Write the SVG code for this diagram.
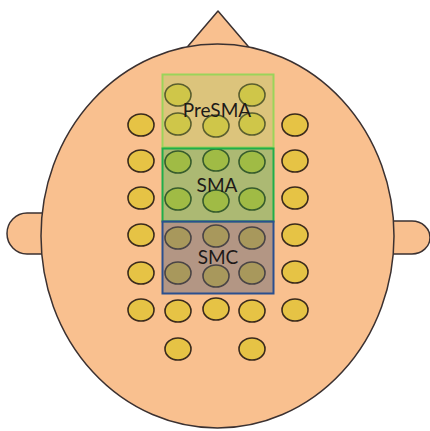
<svg xmlns="http://www.w3.org/2000/svg" width="430" height="431" viewBox="0 0 430 431">
  <style>
    .skin { fill: #f9c08f; stroke: #3b3131; stroke-width: 1.5; }
    .el { fill: #e6c345; stroke: #3a2a1c; stroke-width: 1.6; }
    .lbl { font-family: Lato, "Open Sans", sans-serif; font-size: 19px; fill: #1e1a18; text-anchor: middle; }
  </style>
  <rect width="430" height="431" fill="#ffffff"/>

  <!-- head: nose, ears, scalp -->
  <g id="head">
    <polygon class="skin" points="218,11 183,52 253,52" stroke-linejoin="round"/>
    <path id="ear-left" class="skin" d="M48,213 L27,213 A20,20.5 0 0 0 27,254 L48,254 Z"/>
    <path id="ear-right" class="skin" d="M388,221 L412,221 A18,16.5 0 0 1 412,254 L388,254 Z"/>
    <ellipse id="scalp" class="skin" cx="217.5" cy="236" rx="176.5" ry="192"/>
  </g>

  <!-- electrode sites -->
  <g id="electrodes">
    <ellipse class="el" cx="141" cy="125" rx="13" ry="11"/>
    <ellipse class="el" cx="141" cy="161" rx="13" ry="11"/>
    <ellipse class="el" cx="141" cy="198" rx="13" ry="11"/>
    <ellipse class="el" cx="141" cy="235" rx="13" ry="11"/>
    <ellipse class="el" cx="141" cy="273" rx="13" ry="11"/>
    <ellipse class="el" cx="141" cy="310" rx="13" ry="11"/>

    <ellipse class="el" cx="295" cy="125" rx="13" ry="11"/>
    <ellipse class="el" cx="295" cy="161" rx="13" ry="11"/>
    <ellipse class="el" cx="295" cy="198" rx="13" ry="11"/>
    <ellipse class="el" cx="295" cy="235" rx="13" ry="11"/>
    <ellipse class="el" cx="295" cy="272" rx="13" ry="11"/>
    <ellipse class="el" cx="295" cy="310" rx="13" ry="11"/>

    <ellipse class="el" cx="178" cy="95" rx="13" ry="11"/>
    <ellipse class="el" cx="252" cy="95" rx="13" ry="11"/>
    <ellipse class="el" cx="178" cy="124" rx="13" ry="11"/>
    <ellipse class="el" cx="216" cy="126" rx="13" ry="11"/>
    <ellipse class="el" cx="252" cy="124" rx="13" ry="11"/>

    <ellipse class="el" cx="178" cy="162" rx="13" ry="11"/>
    <ellipse class="el" cx="216" cy="160" rx="13" ry="11"/>
    <ellipse class="el" cx="252" cy="162" rx="13" ry="11"/>
    <ellipse class="el" cx="178" cy="199" rx="13" ry="11"/>
    <ellipse class="el" cx="216" cy="201" rx="13" ry="11"/>
    <ellipse class="el" cx="252" cy="199" rx="13" ry="11"/>

    <ellipse class="el" cx="178" cy="238" rx="13" ry="11"/>
    <ellipse class="el" cx="216" cy="236" rx="13" ry="11"/>
    <ellipse class="el" cx="252" cy="238" rx="13" ry="11"/>
    <ellipse class="el" cx="178" cy="273" rx="13" ry="11"/>
    <ellipse class="el" cx="216" cy="276" rx="13" ry="11"/>
    <ellipse class="el" cx="252" cy="273" rx="13" ry="11"/>

    <ellipse class="el" cx="178" cy="311" rx="13" ry="11"/>
    <ellipse class="el" cx="216" cy="309" rx="13" ry="11"/>
    <ellipse class="el" cx="252" cy="311" rx="13" ry="11"/>
    <ellipse class="el" cx="178" cy="349" rx="13" ry="11"/>
    <ellipse class="el" cx="252" cy="349" rx="13" ry="11"/>
  </g>

  <!-- translucent region overlays -->
  <g id="presma">
    <rect x="162.5" y="74.5" width="111" height="73" fill="#9fce55" fill-opacity="0.32" stroke="#9bd45a" stroke-width="2"/>
    <text class="lbl" x="217" y="117">PreSMA</text>
  </g>
  <g id="sma">
    <rect x="162.5" y="148.5" width="111" height="73" fill="#2fae48" fill-opacity="0.38" stroke="#1fae4a" stroke-width="2"/>
    <text class="lbl" x="217" y="192">SMA</text>
  </g>
  <g id="smc">
    <rect x="162.5" y="221.5" width="111" height="72" fill="#5e6478" fill-opacity="0.45" stroke="#2a4f8f" stroke-width="2"/>
    <text class="lbl" x="218" y="264">SMC</text>
  </g>
</svg>
